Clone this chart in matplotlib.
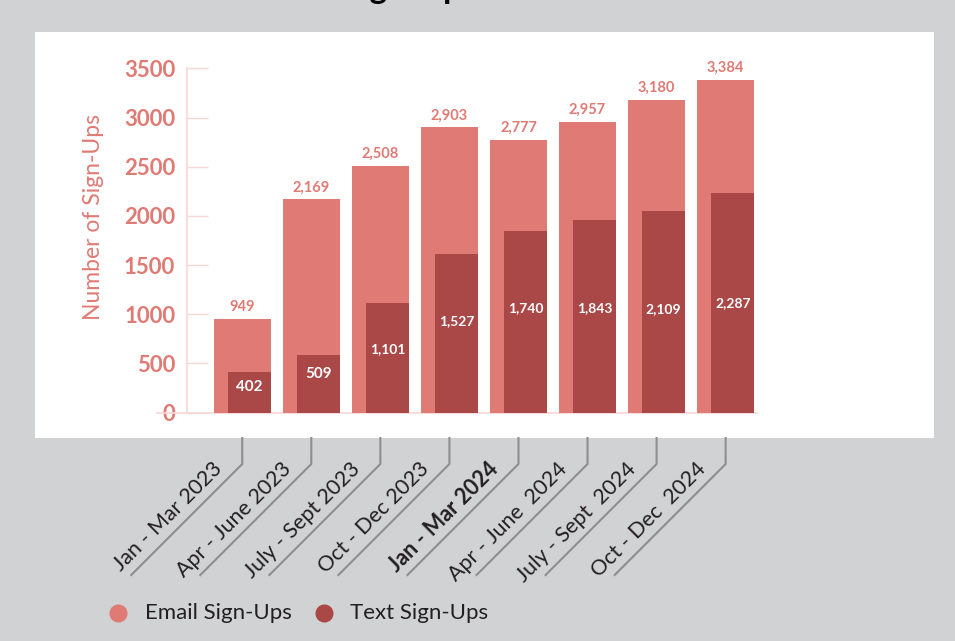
import matplotlib
matplotlib.use("Agg")
import matplotlib.pyplot as plt
from matplotlib.lines import Line2D
from matplotlib.patches import Rectangle
import numpy as np

# data
quarters = ["Jan - Mar 2023", "Apr - June 2023", "July - Sept 2023", "Oct - Dec 2023",
            "Jan - Mar 2024", "Apr - June  2024", "July - Sept  2024", "Oct - Dec  2024"]
email_signups = [949, 2169, 2508, 2903, 2777, 2957, 3180, 3384]
text_signups = [402, 509, 1101, 1527, 1740, 1843, 2109, 2287]
# the dark bars in the source are not drawn at their labelled values
text_bar_heights = [413, 586, 1119, 1615, 1849, 1961, 2053, 2237]
yticks = [0, 500, 1000, 1500, 2000, 2500, 3000, 3500]

# where the white labels sit inside the dark bars (data units)
text_label_y = [262, 391, 642, 931, 1060, 1060, 1050, 1111]

EMAIL_C = "#E07A74"
TEXT_C = "#AA4747"
BG = "#D1D2D4"
PINK_LINE = "#F6D8D6"
W, H = 955, 641

plt.rcParams["font.family"] = ["Lato", "DejaVu Sans"]


def fx(px):
    return px / W


def fy(py):
    return 1 - py / H


fig = plt.figure(figsize=(W / 100, H / 100), dpi=100, facecolor=BG)

# white panel behind the plot
fig.patches.append(Rectangle((fx(35), fy(437.5)), fx(934) - fx(35), fy(32) - fy(437.5),
                             transform=fig.transFigure, facecolor="white", edgecolor="none", zorder=0))

# title, mostly cut off at the top edge in the reference
title = "Email and Text Sign-Ups"
r = fig.canvas.get_renderer()
tmp = fig.text(0, 0, "Email and Text Si", fontsize=24, weight="bold")
pre_w = tmp.get_window_extent(r).width
tmp.remove()
fig.text(fx(369 - pre_w), fy(-1), title, fontsize=24, weight="bold", color="black",
         ha="left", va="baseline")

ax = fig.add_axes([fx(187), fy(412.5), fx(757) - fx(187), fy(68.5) - fy(412.5)])
ax.set_facecolor("none")
ax.set_zorder(2)

x = np.arange(len(quarters))
ew, tw = 0.826, 0.62
ax.bar(x, email_signups, width=ew, color=EMAIL_C, zorder=2)
ax.bar(x + (ew - tw) / 2, text_bar_heights, width=tw, color=TEXT_C, zorder=3)

ax.set_xlim(-0.80, 7.454)
ax.set_ylim(0, 3500)

for xi, v in zip(x, email_signups):
    ax.annotate(f"{v:,}", (xi, v), xytext=(0, 3.5), textcoords="offset points",
                ha="center", va="bottom", fontsize=10.5, weight="bold", color=EMAIL_C)

for xi, v, ly in zip(x, text_signups, text_label_y):
    fs = 11 if v < 1000 else 10
    ax.text(xi + (ew - tw) / 2, ly, f"{v:,}", ha="center", va="center",
            fontsize=fs, weight="bold", color="white", zorder=4)

for s in ["top", "right"]:
    ax.spines[s].set_visible(False)
for s in ["left", "bottom"]:
    ax.spines[s].set_color(PINK_LINE)
    ax.spines[s].set_linewidth(1.2)
ax.spines["bottom"].set_zorder(1)

ax.set_yticks(yticks)
ax.set_yticklabels([str(t) for t in yticks])
ax.tick_params(axis="y", direction="in", length=15, width=1, color=PINK_LINE,
               pad=8.5, labelsize=16, labelcolor=EMAIL_C)
for lab in ax.get_yticklabels():
    lab.set_fontweight("bold")
ax.set_xticks([])
# little extension of the zero line to the left of the axis
ax.plot([-30 / 570, 0], [0, 0], transform=ax.get_yaxis_transform(), color=PINK_LINE,
        lw=1.2, clip_on=False)

fig.text(fx(93), fy(216.7), "Number of Sign-Ups", rotation=90, ha="center", va="center",
         fontsize=16.5, color=EMAIL_C)

# slanted category labels with their bracket lines
for i, lab in enumerate(quarters):
    xc = ax.transData.transform((i, 0))[0]
    fig.add_artist(Line2D([fx(xc), fx(xc), fx(xc - 111)], [fy(438), fy(464), fy(575)],
                          transform=fig.transFigure, color="#8E8E8E", lw=1.5))
    fig.text(fx(xc - 19), fy(470), lab, rotation=45, rotation_mode="anchor",
             ha="right", va="baseline", fontsize=15.5, color="#231F20",
             weight="bold" if lab == "Jan - Mar 2024" else "normal")

# legend
leg_y = 612.7
for cx, tx, lab, c in [(118, 145, "Email Sign-Ups", EMAIL_C), (324, 350, "Text Sign-Ups", TEXT_C)]:
    fig.add_artist(Line2D([fx(cx)], [fy(leg_y)], marker="o", markersize=12,
                          color=c, linestyle="none", transform=fig.transFigure))
    fig.text(fx(tx), fy(leg_y), lab, ha="left", va="center", fontsize=16, color="#231F20")

fig.savefig("out.png", dpi=100, facecolor=BG)
